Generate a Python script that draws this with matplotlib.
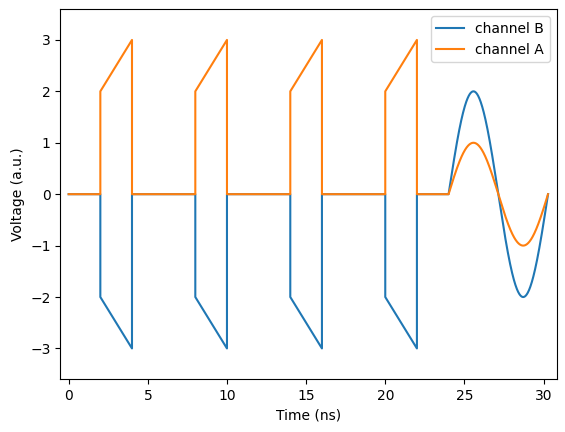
import numpy as np
import matplotlib
matplotlib.use("Agg")
import matplotlib.pyplot as plt

# Waveform description
pulse_starts = [2, 8, 14, 20]       # ns
pulse_width = 2                     # ns
ramp_A = (2, 3)                     # channel A ramp start/end level
ramp_B = (-2, -3)                   # channel B ramp start/end level
sine_start = 24                     # ns
sine_amp_A = 1.0
sine_amp_B = 2.0
sine_period = 2 * np.pi             # ns


def build(ramp, amp):
    t, v = [0.0], [0.0]
    for s in pulse_starts:
        e = s + pulse_width
        t += [s, s, e, e]
        v += [0.0, ramp[0], ramp[1], 0.0]
    t.append(sine_start)
    v.append(0.0)
    ts = np.linspace(sine_start, sine_start + sine_period, 400)
    t += list(ts)
    v += list(amp * np.sin(2 * np.pi * (ts - sine_start) / sine_period))
    return np.array(t), np.array(v)


tB, vB = build(ramp_B, sine_amp_B)
tA, vA = build(ramp_A, sine_amp_A)

fig = plt.figure(figsize=(5.65, 4.32), dpi=100)
ax = fig.add_axes([0.1067, 0.122, 0.8786, 0.857])
ax.plot(tB, vB, label="channel B")
ax.plot(tA, vA, label="channel A")
ax.set_xlim(-0.53, 30.83)
ax.set_ylim(-3.6, 3.6)
ax.set_xlabel("Time (ns)")
ax.set_ylabel("Voltage (a.u.)")
ax.legend(loc="upper right")
fig.savefig("out.png", dpi=100)
